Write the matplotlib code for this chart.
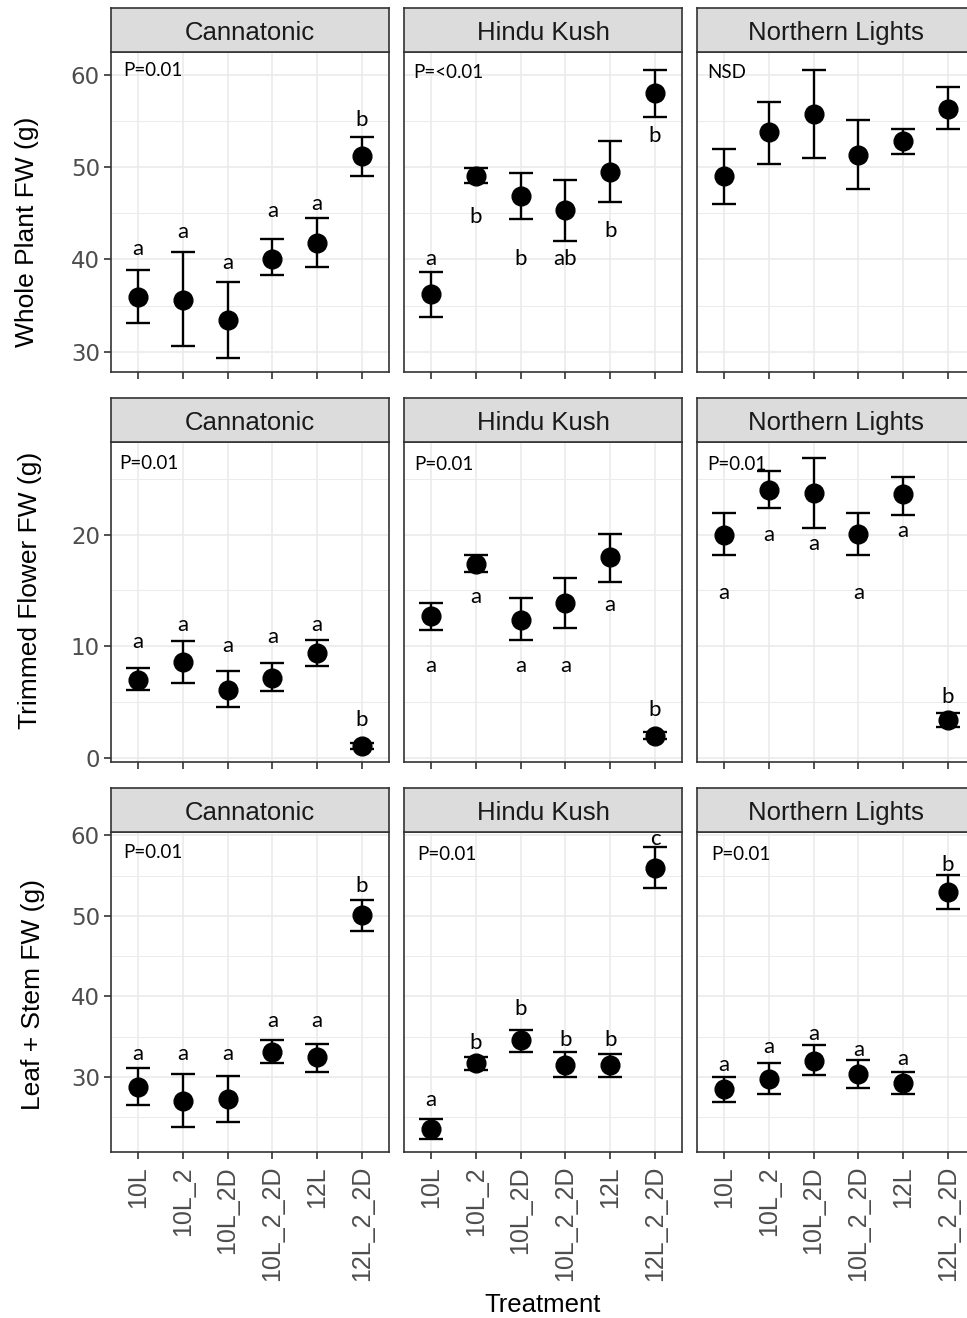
import matplotlib
matplotlib.use("Agg")
import matplotlib.pyplot as plt

# ---------------- data ----------------
treatments = ["10L", "10L_2", "10L_2D", "10L_2_2D", "12L", "12L_2_2D"]
cultivars = ["Cannatonic", "Hindu Kush", "Northern Lights"]
measures = ["Whole Plant FW (g)", "Trimmed Flower FW (g)", "Leaf + Stem FW (g)"]

# Whole plant FW
wp_cann_mean = [35.9, 35.6, 33.4, 40.1, 41.8, 51.2]
wp_cann_low = [33.1, 30.6, 29.3, 38.3, 39.2, 49.0]
wp_cann_high = [38.9, 40.8, 37.6, 42.2, 44.5, 53.3]
wp_cann_letters = ["a", "a", "a", "a", "a", "b"]
wp_cann_letter_y = [41.1, 43.0, 39.6, 45.3, 46.0, 55.1]

wp_hk_mean = [36.3, 49.0, 46.9, 45.4, 49.5, 58.0]
wp_hk_low = [33.8, 48.3, 44.4, 42.0, 46.2, 55.5]
wp_hk_high = [38.6, 49.9, 49.4, 48.6, 52.8, 60.5]
wp_hk_letters = ["a", "b", "b", "ab", "b", "b"]
wp_hk_letter_y = [40.0, 44.6, 40.0, 40.0, 43.1, 53.4]

wp_nl_mean = [49.0, 53.8, 55.8, 51.3, 52.8, 56.3]
wp_nl_low = [46.0, 50.4, 51.0, 47.6, 51.4, 54.1]
wp_nl_high = [52.0, 57.1, 60.5, 55.1, 54.2, 58.7]
wp_nl_letters = []
wp_nl_letter_y = []

# Trimmed flower FW
tf_cann_mean = [7.0, 8.6, 6.05, 7.2, 9.4, 1.05]
tf_cann_low = [6.1, 6.7, 4.6, 6.0, 8.2, 0.8]
tf_cann_high = [8.05, 10.5, 7.75, 8.5, 10.6, 1.3]
tf_cann_letters = ["a", "a", "a", "a", "a", "b"]
tf_cann_letter_y = [10.4, 11.9, 10.0, 10.8, 11.9, 3.4]

tf_hk_mean = [12.7, 17.4, 12.4, 13.9, 18.0, 2.0]
tf_hk_low = [11.5, 16.7, 10.6, 11.6, 15.8, 1.7]
tf_hk_high = [13.9, 18.2, 14.3, 16.1, 20.1, 2.3]
tf_hk_letters = ["a", "a", "a", "a", "a", "b"]
tf_hk_letter_y = [8.2, 14.4, 8.2, 8.2, 13.7, 4.3]

tf_nl_mean = [20.0, 24.0, 23.7, 20.1, 23.6, 3.4]
tf_nl_low = [18.2, 22.4, 20.6, 18.2, 21.8, 2.8]
tf_nl_high = [21.9, 25.7, 26.9, 21.9, 25.2, 4.0]
tf_nl_letters = ["a", "a", "a", "a", "a", "b"]
tf_nl_letter_y = [14.8, 20.0, 19.2, 14.8, 20.3, 5.5]

# Leaf + stem FW
ls_cann_mean = [28.8, 27.0, 27.25, 33.05, 32.5, 50.1]
ls_cann_low = [26.5, 23.8, 24.4, 31.7, 30.6, 48.1]
ls_cann_high = [31.1, 30.4, 30.1, 34.6, 34.1, 52.0]
ls_cann_letters = ["a", "a", "a", "a", "a", "b"]
ls_cann_letter_y = [32.9, 32.9, 32.9, 36.9, 36.9, 53.7]

ls_hk_mean = [23.5, 31.7, 34.6, 31.5, 31.5, 55.9]
ls_hk_low = [22.35, 30.9, 33.1, 30.0, 30.0, 53.5]
ls_hk_high = [24.8, 32.5, 35.8, 33.1, 32.9, 58.5]
ls_hk_letters = ["a", "b", "b", "b", "b", "c"]
ls_hk_letter_y = [27.1, 34.2, 38.4, 34.6, 34.6, 59.5]

ls_nl_mean = [28.5, 29.75, 32.0, 30.4, 29.3, 53.0]
ls_nl_low = [26.9, 27.95, 30.2, 28.6, 27.95, 50.8]
ls_nl_high = [30.0, 31.7, 34.0, 32.1, 30.6, 55.1]
ls_nl_letters = ["a", "a", "a", "a", "a", "b"]
ls_nl_letter_y = [31.5, 33.7, 35.4, 33.3, 32.2, 56.3]

p_labels = [["P=0.01", "P=<0.01", "NSD"],
            ["P=0.01", "P=0.01", "P=0.01"],
            ["P=0.01", "P=0.01", "P=0.01"]]

panels = [
    [(wp_cann_mean, wp_cann_low, wp_cann_high, wp_cann_letters, wp_cann_letter_y),
     (wp_hk_mean, wp_hk_low, wp_hk_high, wp_hk_letters, wp_hk_letter_y),
     (wp_nl_mean, wp_nl_low, wp_nl_high, wp_nl_letters, wp_nl_letter_y)],
    [(tf_cann_mean, tf_cann_low, tf_cann_high, tf_cann_letters, tf_cann_letter_y),
     (tf_hk_mean, tf_hk_low, tf_hk_high, tf_hk_letters, tf_hk_letter_y),
     (tf_nl_mean, tf_nl_low, tf_nl_high, tf_nl_letters, tf_nl_letter_y)],
    [(ls_cann_mean, ls_cann_low, ls_cann_high, ls_cann_letters, ls_cann_letter_y),
     (ls_hk_mean, ls_hk_low, ls_hk_high, ls_hk_letters, ls_hk_letter_y),
     (ls_nl_mean, ls_nl_low, ls_nl_high, ls_nl_letters, ls_nl_letter_y)],
]

# ---------------- layout ----------------
W, H = 967, 1318
fig = plt.figure(figsize=(W / 100, H / 100), dpi=100)
fig.patch.set_facecolor("white")

col_left = [111, 404, 697]
panel_w = 278
row_top = [52, 442, 832]
panel_h = 320
strip_h = 44

ylims = [(27.8, 62.5), (-0.36, 28.3), (20.7, 60.4)]
ymajor = [[30, 40, 50, 60], [0, 10, 20], [30, 40, 50, 60]]
yminor = [[35, 45, 55], [5, 15, 25], [25, 35, 45, 55]]

p_pos = [[(123, 70), (413, 73), (707, 73)],
         [(119, 463), (414, 464), (707, 464)],
         [(123, 853), (417, 855), (711, 855)]]

ylabel_pos = [(27, 232), (30, 590), (33, 995)]

SANS = ["Liberation Sans", "DejaVu Sans"]
LET = ["Lato", "DejaVu Sans"]
BORDER = "#333333"

x = list(range(len(treatments)))

for r in range(3):
    for c in range(3):
        left = col_left[c]
        top = row_top[r]
        ax = fig.add_axes([left / W, 1 - (top + panel_h) / H, panel_w / W, panel_h / H])
        mean, low, high, letters, letter_y = panels[r][c]
        yerr = [[m - l for m, l in zip(mean, low)], [h - m for m, h in zip(mean, high)]]
        ax.errorbar(x, mean, yerr=yerr, fmt="o", color="black", ms=13.5,
                    capsize=8.5, elinewidth=1.7, capthick=1.7, zorder=3)
        for xi, lab, ly in zip(x, letters, letter_y):
            ax.text(xi, ly, lab, ha="center", va="center", fontsize=16,
                    family=LET, color="black", zorder=4)
        px, py = p_pos[r][c]
        ax.text((px - left) / panel_w, 1 - (py - top) / panel_h, p_labels[r][c],
                transform=ax.transAxes, ha="left", va="center", fontsize=13.5,
                family=LET, color="black")

        ax.set_xlim(-0.6, 5.6)
        ax.set_ylim(*ylims[r])
        ax.set_xticks(x)
        ax.set_yticks(ymajor[r])
        ax.set_yticks(yminor[r], minor=True)
        ax.grid(which="major", color="#EBEBEB", lw=1.2)
        ax.grid(which="minor", axis="y", color="#EBEBEB", lw=0.7)
        ax.set_axisbelow(True)
        for s in ax.spines.values():
            s.set_color(BORDER)
            s.set_linewidth(1.2)
        ax.tick_params(axis="both", which="major", length=5, width=1.2, color=BORDER)
        ax.tick_params(axis="y", which="minor", length=0)
        if r == 2:
            ax.set_xticklabels(treatments, rotation=90, fontsize=18,
                               family=SANS, color="#4D4D4D")
            ax.tick_params(axis="x", pad=5)
        else:
            ax.tick_params(axis="x", labelbottom=False)
        if c == 0:
            ax.set_yticklabels([str(v) for v in ymajor[r]], fontsize=16.5,
                               family=["DejaVu Sans"], color="#4D4D4D")
            ax.tick_params(axis="y", pad=3)
        else:
            ax.tick_params(axis="y", which="major", length=0, labelleft=False)

        # strip
        sax = fig.add_axes([left / W, 1 - top / H, panel_w / W, strip_h / H])
        sax.set_facecolor("#DCDCDC")
        sax.set_xticks([])
        sax.set_yticks([])
        for s in sax.spines.values():
            s.set_color(BORDER)
            s.set_linewidth(1.2)
        sax.text(0.5, 0.44, cultivars[c], transform=sax.transAxes, ha="center",
                 va="center", fontsize=18.5, family=SANS, color="#1A1A1A")

for r in range(3):
    lx, ly = ylabel_pos[r]
    fig.text(lx / W, 1 - ly / H, measures[r], rotation=90, ha="center", va="center",
             fontsize=19, family=SANS, color="black")

fig.text(543 / W, 1 - 1305 / H, "Treatment", ha="center", va="center",
         fontsize=18.5, family=SANS, color="black")

fig.savefig("out.png", dpi=100, facecolor="white")
